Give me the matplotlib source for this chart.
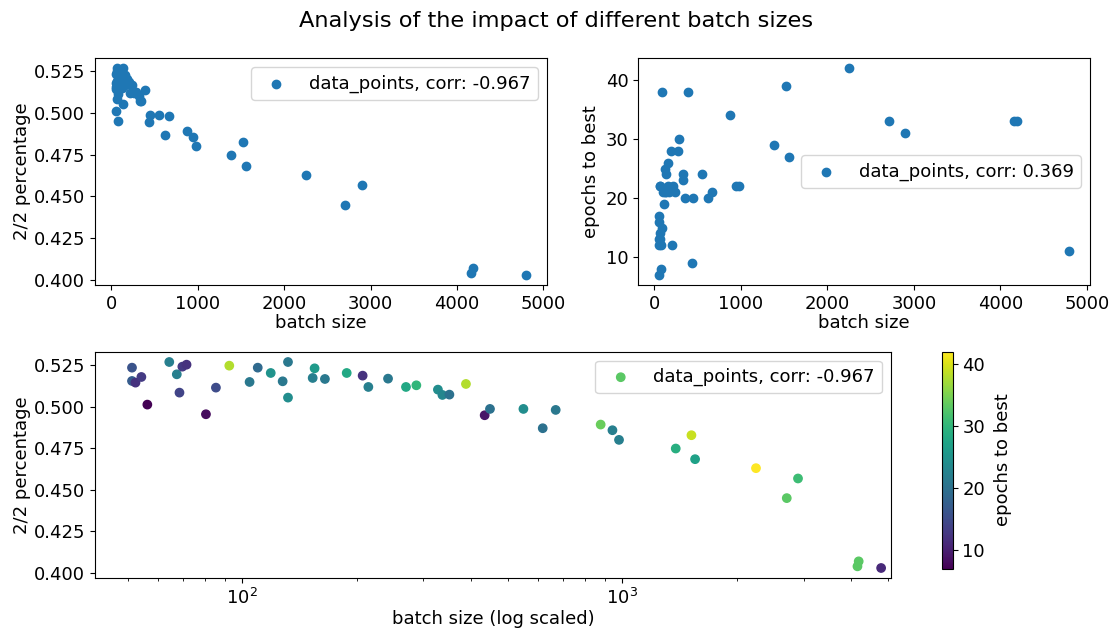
import numpy as np
import matplotlib
matplotlib.use("Agg")
import matplotlib.pyplot as plt
from matplotlib.ticker import MultipleLocator

# data (batch size, 2/2 percentage, epochs to best)
batch_size = [4159, 51.3, 51.3, 52.4, 54.3, 56.3, 64.3, 67.3, 68.4, 69.6, 71.4,
              80.3, 85.3, 92.5, 104.6, 109.9, 118.9, 127.8, 132, 132, 153.3,
              155.1, 165.1, 188.4, 207.5, 214.8, 242, 269.8, 287.3, 327.4,
              336.4, 351, 388, 434.6, 448.8, 549.6, 617.8, 668.3, 877.6, 942.5,
              980.8, 1383, 1521, 1555, 2249, 2710, 2901, 4190, 4800]
percentage = [0.4040, 0.5234, 0.5154, 0.5144, 0.5178, 0.5012, 0.5268, 0.5194,
              0.5084, 0.5240, 0.5252, 0.4954, 0.5114, 0.5246, 0.5148, 0.5234,
              0.5202, 0.5152, 0.5268, 0.5054, 0.5172, 0.5230, 0.5166, 0.5202,
              0.5186, 0.5118, 0.5168, 0.5118, 0.5128, 0.5102, 0.5070, 0.5072,
              0.5136, 0.4948, 0.4986, 0.4986, 0.4870, 0.4980, 0.4892, 0.4858,
              0.4800, 0.4748, 0.4828, 0.4684, 0.4630, 0.4450, 0.4568, 0.4070,
              0.4030]
epochs = [33, 16, 17, 12, 13, 7, 22, 22, 14, 13, 12,
          8, 15, 38, 21, 19, 25, 21, 21, 24, 22,
          26, 21, 28, 12, 22, 21, 28, 30, 24,
          23, 20, 38, 9, 20, 24, 20, 21, 34, 22,
          22, 29, 39, 27, 42, 33, 31, 33, 11]

label_pct = "data_points, corr: -0.967"
label_ep = "data_points, corr: 0.369"

plt.rcParams['font.size'] = 13

fig = plt.figure(figsize=(11.13, 6.3), dpi=100)
W, H = 1113, 630

def box(x0, y0, x1, y1):
    return [x0 / W, 1 - y1 / H, (x1 - x0) / W, (y1 - y0) / H]

ax1 = fig.add_axes(box(95, 58, 546.7, 285))
ax2 = fig.add_axes(box(638.3, 58, 1090, 285))
ax3 = fig.add_axes(box(95, 351.7, 891, 578.3))
cax = fig.add_axes(box(941.7, 351.7, 952.7, 568.5))

ax1.scatter(batch_size, percentage, label=label_pct)
ax1.set_xlabel("batch size", labelpad=1)
ax1.set_ylabel("2/2 percentage", labelpad=2)
ax1.yaxis.set_major_locator(MultipleLocator(0.025))
ax1.legend(loc="upper right")

ax2.scatter(batch_size, epochs, label=label_ep)
ax2.set_xlabel("batch size", labelpad=1)
ax2.set_ylabel("epochs to best")
ax2.legend(loc="center right")

sc = ax3.scatter(batch_size, percentage, c=epochs, cmap="viridis",
                 label=label_pct)
ax3.set_xscale("log")
ax3.set_xlim(41, 5096)
ax3.yaxis.set_major_locator(MultipleLocator(0.025))
ax3.set_xlabel("batch size (log scaled)", labelpad=1)
ax3.set_ylabel("2/2 percentage", labelpad=2)
ax3.legend(loc="upper right")

cb = fig.colorbar(sc, cax=cax)
cb.set_label("epochs to best", labelpad=6)

fig.suptitle("Analysis of the impact of different batch sizes", fontsize=16.2,
             y=0.982)

fig.savefig("out.png", dpi=100)
